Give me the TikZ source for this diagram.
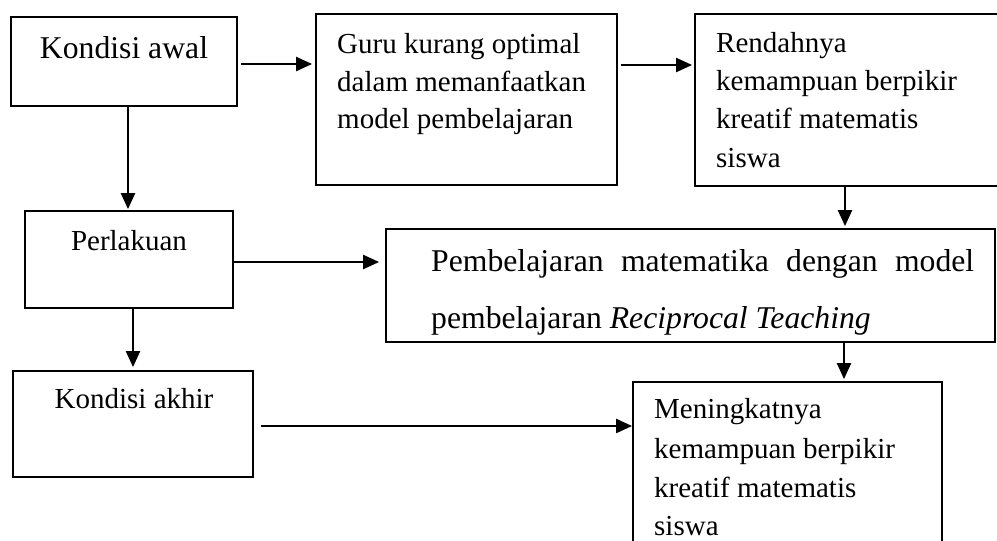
\documentclass[tikz,border=0pt]{standalone}
\usepackage{fontspec}
\setmainfont{Liberation Serif}
\usetikzlibrary{arrows.meta}
\tikzset{
  box/.style={draw=black, line width=1.8pt, rectangle, inner sep=0pt},
  arr/.style={draw=black, line width=2.2pt, -{Triangle[length=16pt,width=14pt]}},
  txt/.style={font=\fontsize{29}{38}\selectfont, inner sep=0pt, anchor=base west},
  bigtxt/.style={font=\fontsize{31.7}{40}\selectfont, inner sep=0pt, anchor=base west},
}
\begin{document}
\begin{tikzpicture}[x=1pt, y=-1pt]
\clip (0,0) rectangle (997,541);
\fill[white] (0,0) rectangle (997,541);
% boxes
\node[box, minimum width=226pt, minimum height=89pt] (b1) at (124,61.5) {};
\node[box, minimum width=301pt, minimum height=171pt] (b2) at (466.5,99.5) {};
\node[box, minimum width=305pt, minimum height=172pt] (b3) at (847.5,100) {};
\node[box, minimum width=208pt, minimum height=97pt] (b4) at (129,259.5) {};
\node[box, minimum width=609pt, minimum height=113pt] (b5) at (690.5,285.5) {};
\node[box, minimum width=240pt, minimum height=106pt] (b6) at (133,424) {};
\node[box, minimum width=309pt, minimum height=178pt] (b7) at (787.5,471) {};
% texts
\node[bigtxt, anchor=base] (t1) at (124,58) {Kondisi awal};
\node[txt] (t2a) at (337,53) {Guru kurang optimal};
\node[txt] (t2b) at (337,91) {dalam memanfaatkan};
\node[txt] (t2c) at (337,128) {model pembelajaran};
\node[txt] (t3a) at (716,52) {Rendahnya};
\node[txt] (t3b) at (716,90) {kemampuan berpikir};
\node[txt] (t3c) at (716,128) {kreatif matematis};
\node[txt] (t3d) at (716,167) {siswa};
\node[txt, anchor=base] (t4) at (129,250) {Perlakuan};
\node[bigtxt] (t5a) at (431,271) {\makebox[543pt][s]{Pembelajaran matematika dengan model}};
\node[bigtxt] (t5b) at (431,328) {pembelajaran \textit{Reciprocal Teaching}};
\node[txt, anchor=base] (t6) at (134,408) {Kondisi akhir};
\node[txt] (t7a) at (654,418) {Meningkatnya};
\node[txt] (t7b) at (654,458) {kemampuan berpikir};
\node[txt] (t7c) at (654,497) {kreatif matematis};
\node[txt] (t7d) at (654,535) {siswa};
% helper coordinates
\coordinate (y1) at (0,64);
\coordinate (y2) at (0,65);
\coordinate (x3) at (128,0);
\coordinate (x4) at (845,0);
\coordinate (y5) at (0,262);
\coordinate (x6) at (133,0);
\coordinate (x7) at (844,0);
\coordinate (y8) at (0,426);
% connectors
\draw[arr, shorten <=3pt, shorten >=3pt] (b1.east |- y1) -- (b2.west |- y1);
\draw[arr, shorten <=3pt, shorten >=2pt] (b2.east |- y2) -- (b3.west |- y2);
\draw[arr, shorten >=1pt] (b1.south -| x3) -- (b4.north -| x3);
\draw[arr, shorten >=2pt] (b3.south -| x4) -- (b5.north -| x4);
\draw[arr, shorten >=6pt] (b4.east |- y5) -- (b5.west |- y5);
\draw[arr, shorten >=3pt] (b4.south -| x6) -- (b6.north -| x6);
\draw[arr, shorten >=2pt] (b5.south -| x7) -- (b7.north -| x7);
\draw[arr, shorten <=7pt] (b6.east |- y8) -- (b7.west |- y8);
\end{tikzpicture}
\end{document}
